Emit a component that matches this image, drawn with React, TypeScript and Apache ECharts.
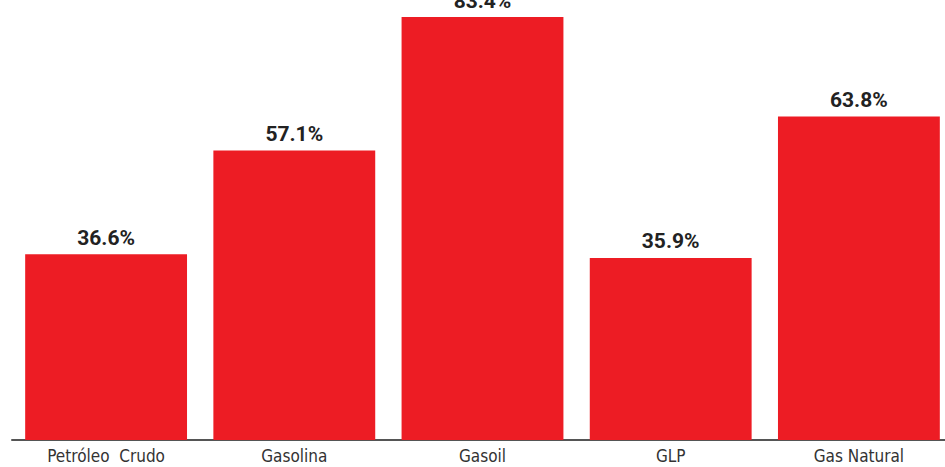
import React, { useEffect, useRef } from "react";
import * as echarts from "echarts";

const categories = ["Petróleo  Crudo", "Gasolina", "Gasoil", "GLP", "Gas Natural"];
const values = [36.6, 57.1, 83.4, 35.9, 63.8];

export default function App() {
  const ref = useRef<HTMLDivElement>(null);
  useEffect(() => {
    if (!ref.current) return;
    const chart = echarts.init(ref.current, undefined, { renderer: "svg" });
    chart.setOption({
      animation: false,
      grid: { left: 12, width: 941, top: 17, bottom: 27 },
      xAxis: {
        type: "category",
        data: categories,
        axisLine: { lineStyle: { color: "#555", width: 2 } },
        axisTick: { show: false },
        axisLabel: {
          color: "#333",
          fontSize: 17,
          fontFamily: "'DejaVu Sans Condensed', sans-serif",
          margin: 7,
        },
      },
      yAxis: {
        type: "value",
        min: 0,
        max: 83.4,
        show: false,
        splitLine: { show: false },
      },
      series: [
        {
          type: "bar",
          data: values,
          barCategoryGap: "14%",
          itemStyle: { color: "#ED1C24" },
          label: {
            show: true,
            position: "top",
            distance: 6,
            formatter: (p: any) => p.value.toFixed(1) + "%",
            color: "#222",
            fontSize: 21,
            fontWeight: "bold",
            fontFamily: "Roboto, sans-serif",
          },
        },
      ],
    });
    return () => chart.dispose();
  }, []);
  return (
    <div style={{ position: "fixed", left: 0, top: 0, width: 945, height: 467, overflow: "hidden", background: "#fff" }}>
      <div ref={ref} style={{ width: 960, height: 467 }} />
    </div>
  );
}
